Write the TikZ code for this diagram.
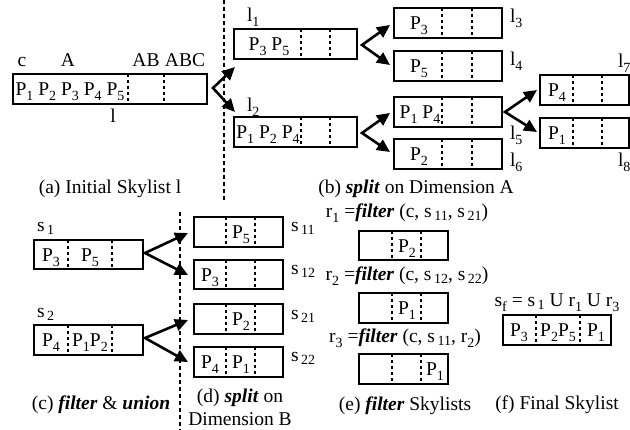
\documentclass[tikz,border=0pt]{standalone}
\usepackage{fontspec}
\setmainfont{Liberation Serif}
\usetikzlibrary{arrows.meta}
\newcommand\sbs[1]{\raisebox{-0.25em}{\fontsize{14}{14}\selectfont #1}}
\newcommand\ssb[1]{\hspace{2.5pt}\raisebox{-0.12em}{\fontsize{14}{14}\selectfont #1}}
\newcommand\bi[1]{\textbf{\textit{#1}}}
\tikzset{
  skybox/.style={draw, line width=1.4pt, inner sep=0pt, outer sep=0pt, anchor=north west},
  divider/.style={line width=1.2pt, dash pattern=on 3.5pt off 2.5pt},
  sepline/.style={line width=1.1pt, dash pattern=on 4pt off 3pt},
  fork/.style={line width=2.6pt, {Triangle[length=13pt,width=12pt]}-{Triangle[length=13pt,width=12pt]}, line join=miter},
  txt/.style={inner sep=0pt, outer sep=0pt, anchor=base, font=\fontsize{19.5}{21}\selectfont},
  lbl/.style={txt, anchor=base west},
}
% name, x1, y1, x2, y2, divider1, divider2
\newcommand\mkbox[7]{%
  \node[skybox, minimum width={(#4-#2)*1pt}, minimum height={(#5-#3)*1pt}] (#1) at (#2,#3) {};
  \draw[divider] (#6,#3) -- (#6,#5);
  \draw[divider] (#7,#3) -- (#7,#5);
}
\begin{document}
\begin{tikzpicture}[x=1pt,y=-1pt]
\useasboundingbox (0,0) rectangle (630,430);

% separators
\coordinate (sepAtop) at (224,0);
\coordinate (sepAbot) at (224,200);
\draw[sepline] (sepAtop) -- (sepAbot);
\coordinate (sepBtop) at (180,212);
\coordinate (sepBbot) at (180,430);
\draw[sepline] (sepBtop) -- (sepBbot);

% (a)
\mkbox{la}{13}{74}{207}{104}{128}{164}
\node[txt] (tla) at (70,96) {P\sbs1 P\sbs2 P\sbs3 P\sbs4 P\sbs5};
\node[txt] (hc) at (22,67) {c};
\node[txt] (hA) at (68,67) {A};
\node[txt] (hAB) at (146,67) {AB};
\node[txt] (hABC) at (185,67) {ABC};
\node[txt] (nl) at (113,123) {l};
\node[txt] (capa) at (110,194) {(a) Initial Skylist l};

% (b)
\mkbox{l1}{234}{29}{357}{59}{301}{330}
\node[txt] (tl1) at (269,51) {P\sbs3 P\sbs5};
\node[lbl] (nl1) at (247,22) {l\sbs1};
\mkbox{l2}{234}{117}{357}{147}{301}{330}
\node[txt] (tl2) at (268,139) {P\sbs1 P\sbs2 P\sbs4};
\node[lbl] (nl2) at (247,112) {l\sbs2};

\mkbox{l3}{394}{8}{502}{38}{442}{472}
\node[txt] (tl3) at (419,30) {P\sbs3};
\node[lbl] (nl3) at (510,23) {l\sbs3};
\mkbox{l4}{394}{51}{502}{81}{442}{472}
\node[txt] (tl4) at (419,73) {P\sbs5};
\node[lbl] (nl4) at (510,66) {l\sbs4};
\mkbox{l5}{394}{97}{502}{127}{442}{472}
\node[txt] (tl5) at (420,119) {P\sbs1 P\sbs4};
\node[lbl] (nl5) at (510,140) {l\sbs5};
\mkbox{l6}{394}{139}{502}{169}{442}{472}
\node[txt] (tl6) at (419,161) {P\sbs2};
\node[lbl] (nl6) at (510,167) {l\sbs6};

\mkbox{l7}{540}{75}{629}{105}{573}{602}
\node[txt] (tl7) at (557,97) {P\sbs4};
\node[lbl] (nl7) at (618,68) {l\sbs7};
\mkbox{l8}{540}{118}{629}{148}{573}{602}
\node[txt] (tl8) at (557,140) {P\sbs1};
\node[lbl] (nl8) at (618,167) {l\sbs8};

\node[txt] (capb) at (416,194) {(b) \bi{split} on Dimension A};

% forks top
\coordinate (fa) at (213,88);
\coordinate (fa1) at (235,67);
\coordinate (fa2) at (235,112);
\draw[fork] (fa1) -- (fa) -- (fa2);
\coordinate (f1) at (362,45);
\coordinate (f11) at (390,25);
\coordinate (f12) at (390,65);
\draw[fork] (f11) -- (f1) -- (f12);
\coordinate (f2) at (362,133);
\coordinate (f21) at (390,113);
\coordinate (f22) at (390,152);
\draw[fork] (f21) -- (f2) -- (f22);
\coordinate (f5) at (505,112);
\coordinate (f51) at (537,90);
\coordinate (f52) at (537,132);
\draw[fork] (f51) -- (f5) -- (f52);

% (c)
\mkbox{s1}{34}{240}{143}{269}{68}{112}
\node[txt] (ts1a) at (51,262) {P\sbs3};
\node[txt] (ts1b) at (90,262) {P\sbs5};
\node[lbl] (ns1) at (37,232) {s\ssb1};
\mkbox{s2}{34}{325}{143}{355}{68}{112}
\node[txt] (ts2a) at (51,347) {P\sbs4};
\node[txt] (ts2b) at (90,347) {P\sbs1P\sbs2};
\node[lbl] (ns2) at (37,318) {s\ssb2};
\node[txt] (capc) at (101,410) {(c) \bi{filter} \& \bi{union}};

% (d)
\mkbox{s11}{194}{217}{283}{247}{226}{255}
\node[txt] (ts11) at (241,239) {P\sbs5};
\node[lbl] (ns11) at (291,232) {s\ssb{11}};
\mkbox{s12}{194}{260}{283}{289}{226}{255}
\node[txt] (ts12) at (210,282) {P\sbs3};
\node[lbl] (ns12) at (291,275) {s\ssb{12}};
\mkbox{s21}{194}{304}{283}{334}{226}{255}
\node[txt] (ts21) at (241,326) {P\sbs2};
\node[lbl] (ns21) at (291,320) {s\ssb{21}};
\mkbox{s22}{194}{347}{283}{377}{226}{255}
\node[txt] (ts22a) at (210,369) {P\sbs4};
\node[txt] (ts22b) at (241,369) {P\sbs1};
\node[lbl] (ns22) at (291,362) {s\ssb{22}};
\node[txt] (capd1) at (240,403) {(d) \bi{split} on};
\node[txt] (capd2) at (240,426) {Dimension B};

% forks bottom
\coordinate (g1) at (145,253);
\coordinate (g11) at (188,233);
\coordinate (g12) at (188,275);
\draw[fork] (g11) -- (g1) -- (g12);
\coordinate (g2) at (145,338);
\coordinate (g21) at (188,320);
\coordinate (g22) at (188,362);
\draw[fork] (g21) -- (g2) -- (g22);

% (e)
\node[txt] (er1) at (407,218) {r\sbs1 =\bi{filter} (c, s\ssb{11}, s\ssb{21})};
\mkbox{r1}{359}{231}{448}{260}{392}{421}
\node[txt] (tr1) at (407,253) {P\sbs2};
\node[txt] (er2) at (407,281) {r\sbs2 =\bi{filter} (c, s\ssb{12}, s\ssb{22})};
\mkbox{r2}{359}{293}{448}{323}{392}{421}
\node[txt] (tr2) at (407,315) {P\sbs1};
\node[txt] (er3) at (405,343) {r\sbs3 =\bi{filter} (c, s\ssb{11}, r\sbs2)};
\mkbox{r3}{359}{354}{448}{384}{392}{421}
\node[txt] (tr3) at (435,376) {P\sbs1};
\node[txt] (cape) at (405,411) {(e) \bi{filter} Skylists};

% (f)
\node[txt] (ef) at (557,307) {s\sbs{f} = s\ssb1 U r\sbs1 U r\sbs3};
\mkbox{sf}{503}{315}{611}{345}{536}{580}
\node[txt] (tf1) at (519,337) {P\sbs3};
\node[txt] (tf2) at (558,337) {P\sbs2P\sbs5};
\node[txt] (tf3) at (596,337) {P\sbs1};
\node[txt] (capf) at (557,410) {(f) Final Skylist};
\end{tikzpicture}
\end{document}
